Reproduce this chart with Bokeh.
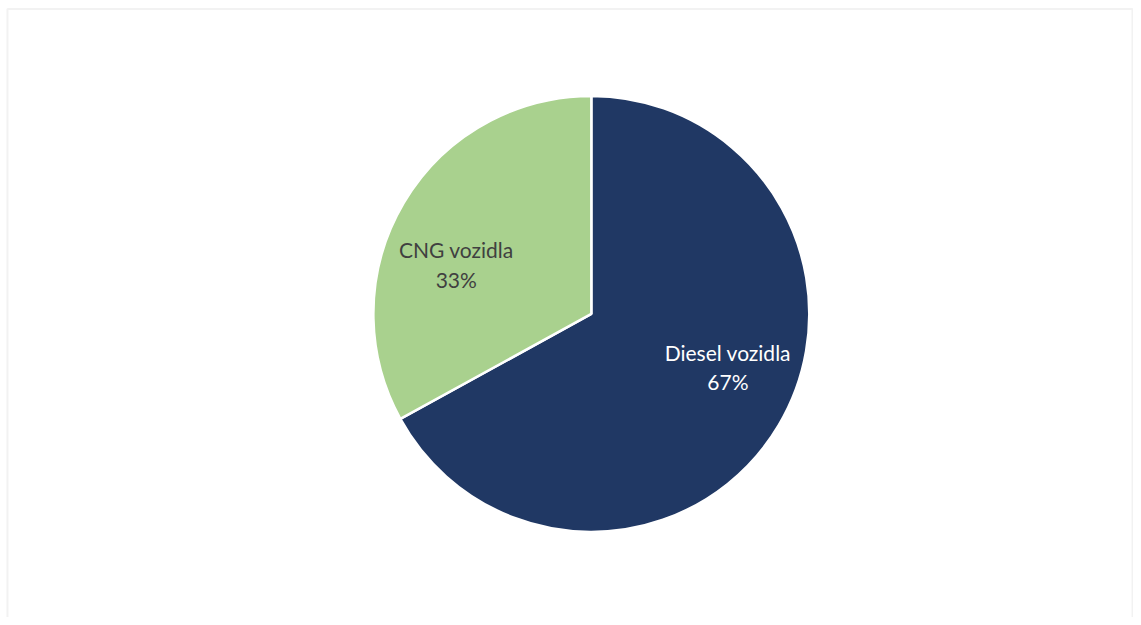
import math
from bokeh.plotting import figure
from bokeh.models import ColumnDataSource, Range1d, BoxAnnotation
from bokeh.core.properties import value
from bokeh.embed import file_html
from bokeh.resources import INLINE

# ---- data ----
categories = ["Diesel vozidla", "CNG vozidla"]
shares = [67, 33]
colors = ["#203864", "#A9D18E"]
label_colors = ["#FFFFFF", "#404040"]

# ---- layout (reference pixel coordinates, scaled to figure) ----
W, H = 1133, 617
sx, sy = W / 1141, H / 625
cx, cy = 595 * sx, H - 317.5 * sy
R = 219.5 * sx
# label centre positions relative to pie centre (pixels, y up)
label_offsets = [(137.5, -53.5), (-136, 50)]
half_gap = 14.75

total = sum(shares)
starts, ends = [], []
a = math.pi / 2
for v in shares:
    span = 2 * math.pi * v / total
    starts.append(a - span)
    ends.append(a)
    a -= span

src = ColumnDataSource(dict(start=starts, end=ends, color=colors))

p = figure(width=W, height=H, output_backend="svg", toolbar_location=None,
           x_range=Range1d(0, W), y_range=Range1d(0, H), min_border=0)
p.xaxis.visible = False
p.yaxis.visible = False
p.xgrid.visible = False
p.ygrid.visible = False
p.outline_line_color = None
p.background_fill_color = "white"
p.border_fill_color = "white"

# chart-area border (bottom edge falls outside the visible area)
p.add_layout(BoxAnnotation(left=7 * sx, right=1140 * sx, top=H - 8.5 * sy, bottom=-20,
                           fill_color=None, line_color="#D4D4D4", line_width=2))

p.wedge(x=cx, y=cy, radius=R, radius_units="screen", start_angle="start", end_angle="end",
        fill_color="color", line_color="white", line_width=2.5, source=src)

for cat, v, col, (dx, dy) in zip(categories, shares, label_colors, label_offsets):
    lx, ly = cx + dx * sx, cy + dy * sy
    p.text(x=[lx], y=[ly + half_gap], text=[cat], text_font=value("Lato"), text_font_size="21px",
           text_color=col, text_align="center", text_baseline="middle")
    p.text(x=[lx], y=[ly - half_gap], text=[f"{round(100 * v / total)}%"], text_font=value("Lato"),
           text_font_size="21px", text_color=col, text_align="center", text_baseline="middle")

open("out.html", "w").write(file_html(p, INLINE))
